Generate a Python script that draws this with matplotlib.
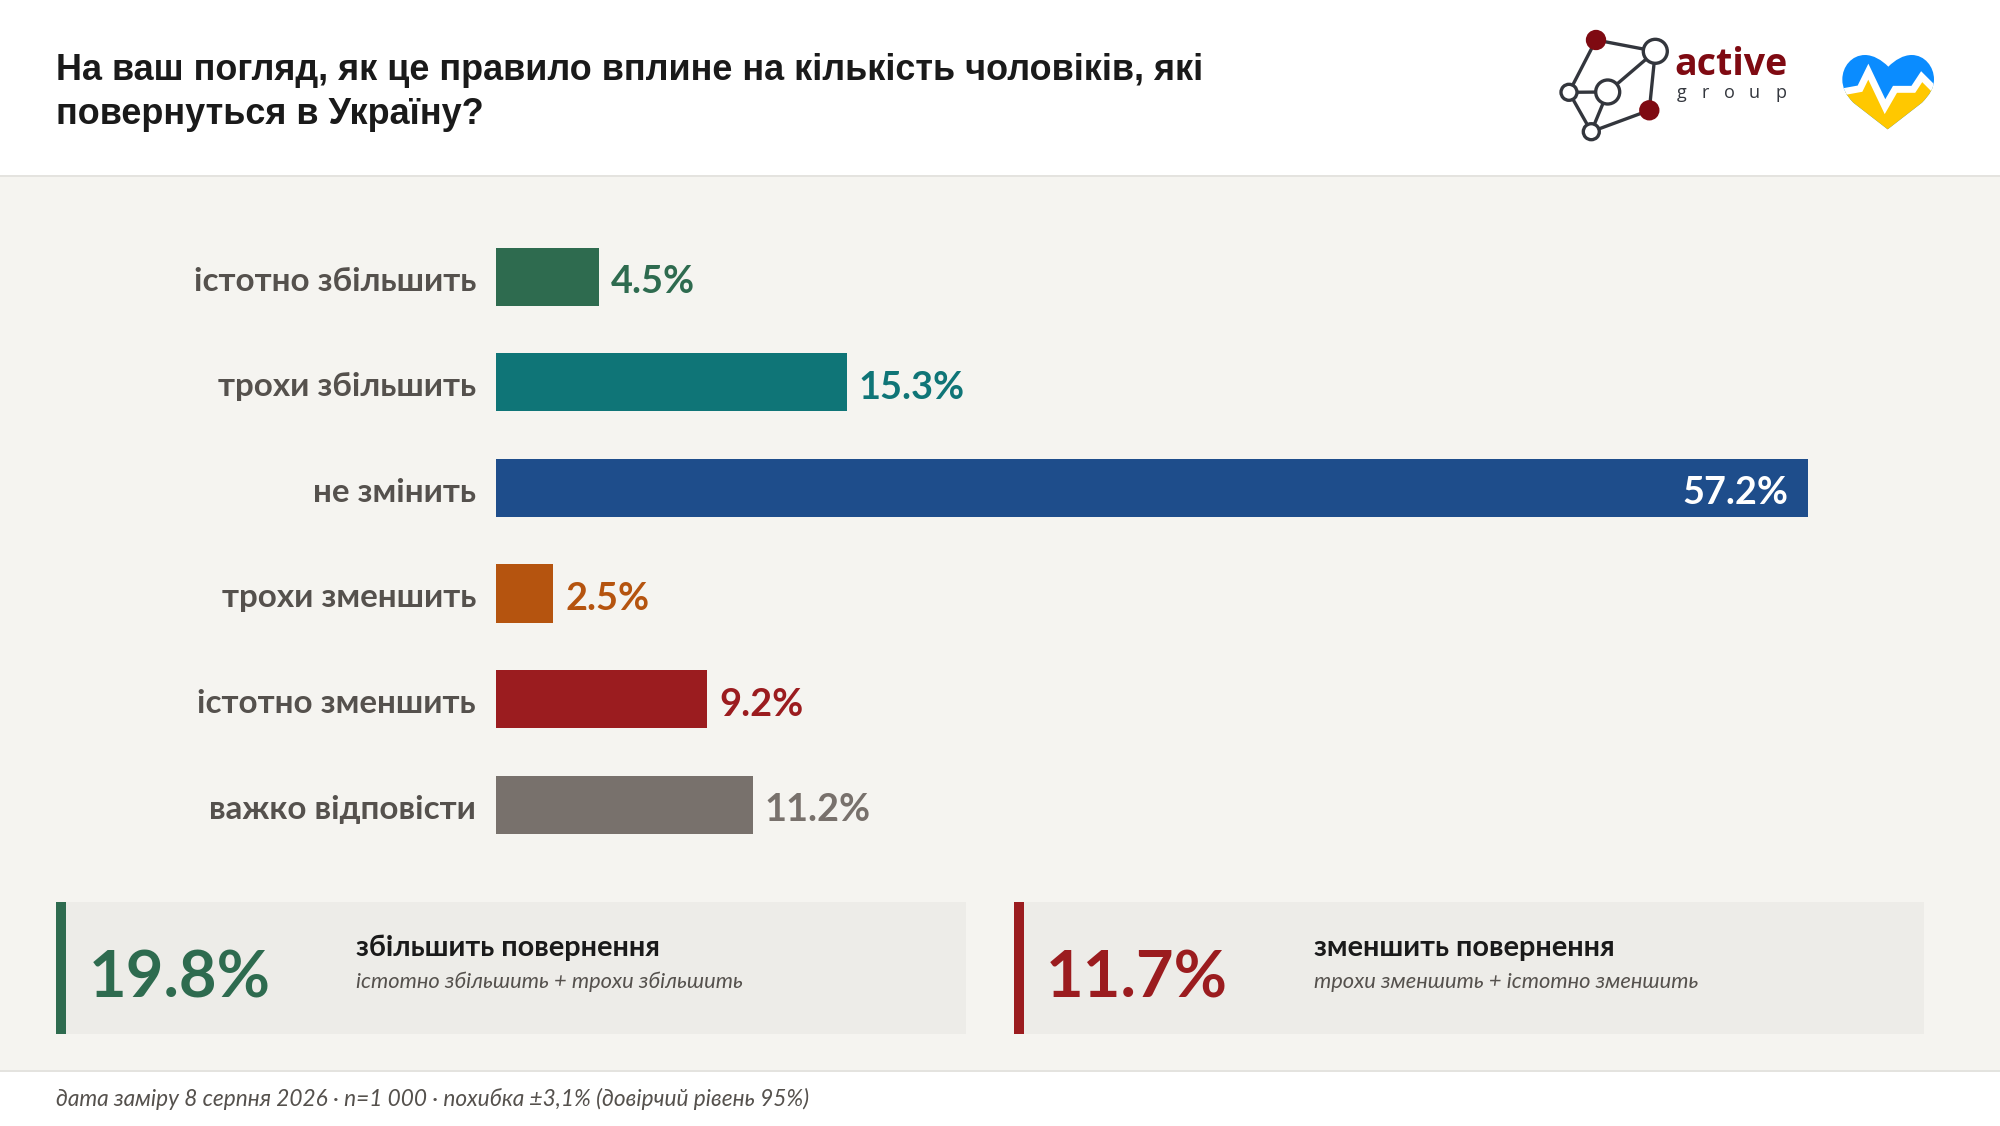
import matplotlib
matplotlib.use("Agg")
import matplotlib.pyplot as plt
from matplotlib.patches import Rectangle, Circle, PathPatch
from matplotlib.path import Path

categories = ["істотно збільшить", "трохи збільшить", "не змінить",
              "трохи зменшить", "істотно зменшить", "важко відповісти"]
values = [4.5, 15.3, 57.2, 2.5, 9.2, 11.2]
colors = ["#2E6B4F", "#0F7577", "#1E4D8B", "#B5540F", "#9B1C1F", "#78716C"]
title = "На ваш погляд, як це правило вплине на кількість чоловіків, які\nповернуться в Україну?"
footer = "дата заміру 8 серпня 2026 · n=1 000 · похибка ±3,1% (довірчий рівень 95%)"
summary_values = ["19.8%", "11.7%"]
summary_titles = ["збільшить повернення", "зменшить повернення"]
summary_subs = ["істотно збільшить + трохи збільшить", "трохи зменшить + істотно зменшить"]
summary_colors = ["#2E6B4F", "#9B1C1F"]

W, H = 2000, 1126
LATO = ["Lato", "DejaVu Sans"]
fig = plt.figure(figsize=(W / 100, H / 100), dpi=100, facecolor="white")
bg = fig.add_axes([0, 0, 1, 1], zorder=0)
bg.set_xlim(0, W); bg.set_ylim(H, 0); bg.axis("off")

def rect(x0, y0, x1, y1, c, z=1):
    bg.add_patch(Rectangle((x0, y0), x1 - x0, y1 - y0, fc=c, ec="none", zorder=z))

rect(0, 176, W, 1071, "#F5F4F0")
rect(0, 175, W, 177, "#E4E3DF", 2)
rect(0, 1070, W, 1072, "#E4E3DF", 2)

bg.text(56, 80, title.split("\n")[0], family="Liberation Sans", weight="bold", fontsize=25.95, color="#1A1A1A", va="baseline")
bg.text(56, 124, title.split("\n")[1], family="Liberation Sans", weight="bold", fontsize=25.95, color="#1A1A1A", va="baseline")

# bars
top = 276.7 - 52.8
bottom = top + 6 * 105.6
ax = fig.add_axes([496 / W, 1 - bottom / H, 1312 / W, (bottom - top) / H], zorder=3)
ax.patch.set_alpha(0)
ax.axis("off")
ax.set_xlim(0, 57.2)
ax.set_ylim(5.5, -0.5)
ypos = list(range(len(values)))
ax.barh(ypos, values, height=0.552, color=colors)
for y, v, c, cat in zip(ypos, values, colors, categories):
    ax.annotate(cat, (0, y), xytext=(-20, -2), textcoords="offset pixels", ha="right", va="center_baseline",
                family=LATO, weight="bold", fontsize=23.9, color="#55514D", annotation_clip=False)
    if v > 50:
        ax.annotate(f"{v}%", (v, y), xytext=(-20, -2.5), textcoords="offset pixels", ha="right", va="center_baseline",
                    family=LATO, weight="bold", fontsize=27.3, color="white", annotation_clip=False)
    else:
        ax.annotate(f"{v}%", (v, y), xytext=(12, -2.5), textcoords="offset pixels", ha="left", va="center_baseline",
                    family=LATO, weight="bold", fontsize=27.3, color=c, annotation_clip=False)

# summary panels
for x0, x1, xv, xt, sv, st, ss, c in zip([56, 1014], [966, 1924], [89, 1046], [356, 1314],
                                        summary_values, summary_titles, summary_subs, summary_colors):
    rect(x0, 902, x1, 1034, "#EDECE8")
    rect(x0, 902, x0 + 10, 1034, c, 2)
    bg.text(xv, 997, sv, family=LATO, weight="bold", fontsize=46.9, color=c, va="baseline", zorder=4)
    bg.text(xt, 956, st, family=LATO, weight="bold", fontsize=20.75, color="#1A1A1A", va="baseline", zorder=4)
    bg.text(xt, 988, ss, family=LATO, style="italic", fontsize=15.75, color="#55514D", va="baseline", zorder=4)

bg.text(56, 1106, footer, family=LATO, style="italic", fontsize=16.28, color="#55514D", va="baseline")

# logo
nodes = [(1596, 40, 8.5, "#7F0A12"), (1655.3, 51.3, 12, "white"), (1569, 92.3, 8, "white"),
         (1607.7, 92, 12, "white"), (1649.3, 110.3, 8.5, "#7F0A12"), (1591.3, 131.7, 8, "white")]
edges = [(0, 1), (0, 2), (2, 3), (3, 1), (1, 4), (4, 5), (5, 3), (5, 2)]
for a, b in edges:
    bg.plot([nodes[a][0], nodes[b][0]], [nodes[a][1], nodes[b][1]], color="#33363D", lw=2.4, zorder=3,
            solid_capstyle="round")
for x, y, r, c in nodes:
    bg.add_patch(Circle((x, y), r, fc=c, ec="#33363D" if c == "white" else c, lw=2.4, zorder=4))
bg.text(1674, 75, "active", family="Open Sans", weight="bold", fontsize=27, color="#7F0A12", va="baseline")
for x, ch in zip([1682, 1705, 1729, 1754, 1781], "group"):
    bg.text(x, 97.5, ch, family="Open Sans", fontsize=13, weight="medium", color="#33363D", va="baseline", ha="center")

# heart
def z(px, py):
    return (1520 + px / 3, 10 + py / 3)

heart_v = [(1105, 170), (1085, 150), (1060, 135), (1035, 135), (995, 135), (967, 170), (967, 208),
           (967, 235), (978, 255), (1000, 278), (1103, 358), (1206, 278),
           (1228, 255), (1242, 235), (1242, 208), (1242, 170), (1214, 135), (1175, 135), (1150, 135),
           (1125, 150), (1105, 170)]
codes = [Path.MOVETO] + [Path.CURVE4] * 9 + [Path.LINETO] * 2 + [Path.CURVE4] * 9
heart = Path([z(*p) for p in heart_v], codes)
hp = PathPatch(heart, fc="#0A8CFF", ec="none", zorder=3)
bg.add_patch(hp)
pulse = [(960, 247), (1020, 236), (1045, 185), (1095, 290), (1125, 238), (1180, 238), (1205, 200), (1250, 245)]
pts = [z(*p) for p in pulse]
yellow = bg.fill([p[0] for p in pts] + [z(1250, 0)[0], z(960, 0)[0]],
                 [p[1] for p in pts] + [z(0, 370)[1], z(0, 370)[1]], color="#FFC800", zorder=4, lw=0)[0]
yellow.set_clip_path(hp)
line = bg.plot([p[0] for p in pts], [p[1] for p in pts], color="white", lw=5, zorder=5, solid_joinstyle="miter")[0]
line.set_clip_path(hp)

fig.savefig("out.png", dpi=100, facecolor="white")
